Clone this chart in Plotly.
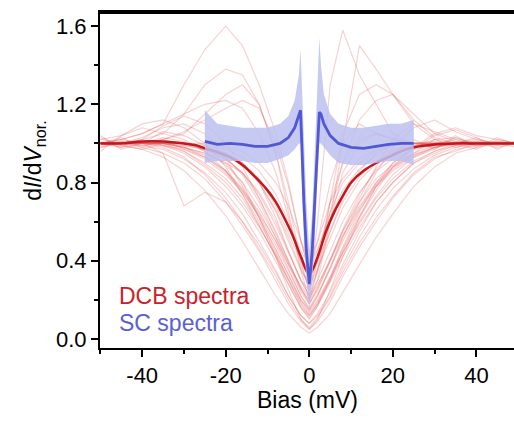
import plotly.graph_objects as go

# bias grid for the individual DCB traces (mV)
bias_dcb = [-50, -45, -40, -35, -30, -25, -20, -16, -12, -8, -5, -2, 0,
            2, 5, 8, 12, 16, 20, 25, 30, 35, 40, 45, 50]

# individual normalised dI/dV DCB spectra
dcb_traces = [
    [1.00, 1.02, 1.05, 1.10, 1.30, 1.48, 1.60, 1.50, 1.30, 1.05, 0.80, 0.50, 0.35, 0.50, 0.80, 1.00, 1.10, 1.05, 1.02, 1.00, 1.01, 0.99, 1.00, 1.00, 1.00],
    [1.00, 0.98, 1.02, 1.05, 1.15, 1.30, 1.38, 1.35, 1.20, 0.95, 0.70, 0.40, 0.25, 0.40, 0.70, 0.90, 1.02, 1.05, 1.03, 1.00, 1.00, 1.02, 0.99, 1.00, 1.00],
    [1.02, 1.00, 1.00, 1.02, 1.05, 1.15, 1.25, 1.30, 1.20, 0.95, 0.65, 0.35, 0.20, 0.35, 0.60, 0.85, 1.00, 1.05, 1.02, 1.00, 0.98, 1.00, 1.01, 1.00, 1.00],
    [1.00, 1.01, 1.00, 1.00, 0.98, 0.95, 0.90, 0.85, 0.75, 0.60, 0.45, 0.30, 0.25, 0.60, 1.30, 1.58, 1.35, 1.20, 1.05, 1.00, 1.00, 1.00, 1.02, 1.00, 1.00],
    [1.00, 1.00, 0.99, 1.00, 1.00, 0.97, 0.92, 0.85, 0.72, 0.55, 0.40, 0.25, 0.20, 0.30, 0.60, 1.00, 1.50, 1.38, 1.25, 1.10, 1.02, 1.00, 1.00, 0.98, 1.00],
    [1.00, 1.00, 1.00, 1.00, 1.00, 0.98, 0.95, 0.90, 0.80, 0.62, 0.45, 0.30, 0.22, 0.35, 0.70, 1.05, 1.25, 1.30, 1.25, 1.12, 1.03, 1.00, 1.00, 1.00, 1.00],
    [1.00, 1.00, 1.00, 1.00, 1.00, 0.98, 0.95, 0.90, 0.80, 0.65, 0.50, 0.35, 0.28, 0.40, 0.65, 0.90, 1.12, 1.22, 1.25, 1.15, 1.05, 1.01, 1.00, 1.00, 1.00],
    [1.00, 1.00, 1.00, 1.02, 1.06, 1.12, 1.18, 1.22, 1.18, 1.00, 0.78, 0.50, 0.35, 0.45, 0.65, 0.80, 0.90, 0.96, 0.99, 1.00, 1.00, 1.00, 1.00, 1.00, 1.00],
    [1.00, 1.02, 1.05, 1.10, 1.15, 1.20, 1.22, 1.18, 1.05, 0.85, 0.62, 0.38, 0.25, 0.35, 0.55, 0.72, 0.86, 0.95, 0.99, 1.00, 1.00, 1.00, 1.00, 1.00, 1.00],
    [1.00, 1.00, 1.00, 1.00, 0.98, 0.95, 0.90, 0.80, 0.62, 0.42, 0.25, 0.10, 0.05, 0.10, 0.25, 0.42, 0.62, 0.78, 0.88, 0.95, 0.99, 1.00, 1.00, 1.00, 1.00],
    [1.00, 0.99, 0.97, 0.93, 0.86, 0.76, 0.63, 0.50, 0.36, 0.22, 0.13, 0.06, 0.03, 0.06, 0.13, 0.24, 0.38, 0.52, 0.64, 0.78, 0.88, 0.95, 0.98, 1.00, 1.00],
    [1.00, 1.00, 0.99, 0.97, 0.92, 0.85, 0.75, 0.64, 0.50, 0.35, 0.22, 0.12, 0.08, 0.12, 0.22, 0.36, 0.52, 0.66, 0.77, 0.87, 0.94, 0.98, 1.00, 1.00, 1.00],
    [1.00, 1.00, 1.00, 0.99, 0.97, 0.93, 0.86, 0.77, 0.65, 0.50, 0.36, 0.22, 0.15, 0.22, 0.37, 0.52, 0.67, 0.79, 0.87, 0.94, 0.98, 1.00, 1.00, 1.00, 1.00],
    [1.00, 1.00, 1.00, 1.00, 0.99, 0.97, 0.92, 0.85, 0.74, 0.58, 0.44, 0.30, 0.22, 0.30, 0.45, 0.60, 0.75, 0.86, 0.92, 0.97, 0.99, 1.00, 1.00, 1.00, 1.00],
    [1.00, 1.00, 1.00, 0.95, 0.68, 0.75, 0.70, 0.60, 0.48, 0.34, 0.22, 0.12, 0.08, 0.13, 0.24, 0.38, 0.55, 0.70, 0.80, 0.90, 0.96, 0.99, 1.00, 1.00, 1.00],
    [1.00, 1.00, 1.00, 1.00, 1.00, 0.98, 0.95, 0.90, 0.82, 0.68, 0.54, 0.40, 0.32, 0.40, 0.55, 0.70, 0.83, 0.91, 0.96, 0.99, 1.00, 1.00, 1.00, 1.00, 1.00],
    [1.00, 1.00, 1.00, 1.00, 1.00, 0.99, 0.97, 0.93, 0.86, 0.74, 0.60, 0.45, 0.38, 0.46, 0.62, 0.76, 0.87, 0.94, 0.97, 0.99, 1.00, 1.00, 1.00, 1.00, 1.00],
    [0.98, 1.00, 1.03, 1.08, 1.10, 1.05, 0.92, 0.78, 0.62, 0.45, 0.32, 0.20, 0.14, 0.20, 0.32, 0.46, 0.63, 0.78, 0.90, 0.98, 1.02, 1.03, 1.00, 1.00, 1.00],
    [1.02, 1.04, 1.10, 1.12, 1.08, 1.00, 0.88, 0.74, 0.58, 0.42, 0.28, 0.16, 0.10, 0.17, 0.30, 0.45, 0.62, 0.76, 0.88, 0.98, 1.05, 1.08, 1.04, 1.02, 1.00],
    [1.00, 1.00, 1.00, 0.99, 0.96, 0.90, 0.82, 0.72, 0.58, 0.42, 0.30, 0.18, 0.12, 0.18, 0.30, 0.44, 0.60, 0.73, 0.84, 0.93, 0.98, 1.00, 1.00, 1.00, 1.00],
    [1.00, 1.00, 0.98, 0.95, 0.90, 0.82, 0.70, 0.58, 0.45, 0.30, 0.18, 0.09, 0.05, 0.09, 0.19, 0.32, 0.47, 0.60, 0.72, 0.84, 0.92, 0.97, 0.99, 1.00, 1.00],
    [1.00, 1.00, 1.00, 1.00, 1.00, 1.00, 0.98, 0.96, 0.90, 0.80, 0.68, 0.50, 0.40, 0.50, 0.70, 0.82, 0.92, 0.97, 0.99, 1.00, 1.00, 1.00, 1.00, 1.00, 1.00],
    [1.00, 1.00, 1.00, 1.00, 0.98, 0.94, 0.86, 0.76, 0.62, 0.46, 0.33, 0.20, 0.15, 0.22, 0.36, 0.52, 0.70, 0.85, 0.98, 1.08, 1.12, 1.06, 1.02, 1.00, 1.00],
    [0.96, 1.04, 1.08, 1.05, 1.02, 0.96, 0.86, 0.74, 0.60, 0.44, 0.30, 0.17, 0.12, 0.18, 0.31, 0.47, 0.65, 0.80, 0.90, 0.97, 1.04, 1.07, 1.03, 0.97, 1.02],
    [1.04, 0.97, 1.00, 1.06, 1.04, 0.99, 0.93, 0.84, 0.70, 0.52, 0.38, 0.24, 0.18, 0.25, 0.40, 0.56, 0.74, 0.87, 0.95, 1.02, 0.97, 1.04, 0.98, 1.03, 0.99],
    [1.00, 1.03, 0.98, 1.02, 0.97, 0.92, 0.84, 0.75, 0.63, 0.48, 0.35, 0.22, 0.16, 0.23, 0.36, 0.50, 0.66, 0.78, 0.86, 0.93, 0.97, 1.03, 0.99, 1.01, 1.00],
    [0.99, 1.00, 1.02, 0.99, 0.95, 0.88, 0.78, 0.68, 0.55, 0.40, 0.28, 0.16, 0.11, 0.17, 0.29, 0.42, 0.57, 0.70, 0.80, 0.90, 0.95, 0.99, 1.01, 1.00, 0.98],
    [1.01, 0.98, 1.00, 1.03, 1.01, 0.96, 0.89, 0.80, 0.67, 0.52, 0.39, 0.26, 0.19, 0.27, 0.41, 0.55, 0.70, 0.82, 0.89, 0.95, 1.02, 0.98, 1.00, 1.01, 1.00],
    [1.00, 1.02, 1.00, 0.98, 0.93, 0.84, 0.72, 0.60, 0.46, 0.32, 0.20, 0.10, 0.06, 0.11, 0.21, 0.34, 0.49, 0.62, 0.73, 0.85, 0.93, 0.96, 1.00, 0.99, 1.01],
    [1.00, 1.00, 1.01, 1.00, 0.99, 0.97, 0.94, 0.89, 0.80, 0.66, 0.52, 0.36, 0.27, 0.36, 0.52, 0.67, 0.81, 0.90, 0.95, 0.98, 1.00, 1.01, 1.00, 1.00, 1.00],
    [1.03, 0.99, 0.97, 1.00, 0.96, 0.89, 0.80, 0.70, 0.57, 0.43, 0.31, 0.19, 0.13, 0.19, 0.31, 0.44, 0.59, 0.72, 0.82, 0.91, 0.96, 1.00, 0.97, 1.02, 1.00],
    [1.00, 1.00, 1.02, 1.09, 1.14, 1.10, 1.00, 0.88, 0.72, 0.54, 0.40, 0.26, 0.18, 0.26, 0.40, 0.55, 0.72, 0.88, 1.02, 1.10, 1.06, 1.02, 1.00, 1.00, 1.00],
    [0.98, 1.01, 1.00, 1.00, 0.98, 0.93, 0.85, 0.76, 0.64, 0.50, 0.38, 0.27, 0.21, 0.28, 0.40, 0.53, 0.68, 0.80, 0.88, 0.94, 0.98, 1.00, 1.03, 0.99, 1.00],
]

# averaged DCB spectrum
bias_dcb_mean = [-50, -45, -40, -35, -30, -27, -25, -22, -19, -16, -13, -10, -8, -6, -4, -2, 0,
                 2, 4, 6, 8, 10, 13, 16, 19, 22, 25, 30, 35, 40, 45, 50]
dcb_mean = [1.00, 1.00, 1.01, 1.01, 1.00, 0.99, 0.975, 0.955, 0.93, 0.89, 0.83, 0.76, 0.70, 0.62, 0.53, 0.42, 0.33,
            0.42, 0.55, 0.65, 0.73, 0.80, 0.86, 0.90, 0.93, 0.96, 0.98, 0.995, 1.00, 1.00, 1.00, 1.00]

# averaged SC spectrum and its spread
bias_sc = [-25, -22, -19, -16, -13, -10, -7, -5, -3.5, -2.5, -2.1, -1.8, -1.3, -0.7, 0,
           0.7, 1.3, 1.9, 2.4, 2.8, 3.5, 5, 7, 10, 13, 16, 19, 22, 25]
sc_mean = [1.01, 0.995, 1.00, 0.995, 0.985, 0.985, 1.00, 1.03, 1.08, 1.15, 1.17, 1.00, 0.70, 0.45, 0.28,
           0.45, 0.70, 1.00, 1.16, 1.15, 1.10, 1.04, 1.00, 0.98, 0.975, 0.985, 0.995, 1.00, 1.00]
sc_upper = [1.17, 1.10, 1.09, 1.08, 1.08, 1.08, 1.10, 1.14, 1.22, 1.35, 1.48, 1.30, 1.00, 0.70, 0.45,
            0.65, 0.95, 1.30, 1.54, 1.40, 1.25, 1.15, 1.10, 1.08, 1.08, 1.09, 1.10, 1.10, 1.12]
sc_lower = [0.90, 0.91, 0.91, 0.91, 0.90, 0.90, 0.92, 0.94, 0.97, 1.00, 1.00, 0.80, 0.50, 0.30, 0.15,
            0.30, 0.50, 0.80, 1.00, 1.00, 0.98, 0.94, 0.90, 0.89, 0.89, 0.90, 0.91, 0.91, 0.89]

x_ticks = [-40, -20, 0, 20, 40]
x_tick_text = ["-40", "-20", "0", "20", "40"]
y_ticks = [0.0, 0.4, 0.8, 1.2, 1.6]
y_tick_text = ["0.0", "0.4", "0.8", "1.2", "1.6"]

fig = go.Figure()

for trace in dcb_traces:
    fig.add_trace(go.Scatter(x=bias_dcb, y=trace, mode="lines",
                             line=dict(color="rgba(225,95,95,0.28)", width=1.2),
                             hoverinfo="skip"))

fig.add_trace(go.Scatter(x=bias_dcb_mean, y=dcb_mean, mode="lines",
                         line=dict(color="#c4161c", width=2.5, shape="spline")))

fig.add_trace(go.Scatter(x=bias_sc, y=sc_upper, mode="lines", line=dict(width=0, color="#c5c7f1")))
fig.add_trace(go.Scatter(x=bias_sc, y=sc_lower, mode="lines", line=dict(width=0, color="#c5c7f1"),
                         fill="tonexty", fillcolor="rgba(188,191,240,0.85)"))
fig.add_trace(go.Scatter(x=bias_sc, y=sc_mean, mode="lines",
                         line=dict(color="#5257d4", width=2.8)))

fig.add_annotation(x=-46, y=0.22, xanchor="left", yanchor="middle", showarrow=False,
                   text="DCB spectra", font=dict(size=23, color="#c8232b"))
fig.add_annotation(x=-46, y=0.08, xanchor="left", yanchor="middle", showarrow=False,
                   text="SC spectra", font=dict(size=23, color="#5b5fd6"))

# axis titles placed as annotations so they sit where the reference has them
fig.add_annotation(xref="paper", yref="paper", x=-0.157, y=0.557, textangle=-90,
                   showarrow=False, xanchor="center", yanchor="middle",
                   text="d<i>I</i>/d<i>V</i><sub>nor.</sub>", font=dict(size=23, color="black"))
fig.add_annotation(xref="paper", yref="paper", x=0.5, y=-0.155, showarrow=False,
                   xanchor="center", yanchor="middle",
                   text="Bias (mV)", font=dict(size=23, color="black"))

# top frame line
fig.add_shape(type="line", xref="paper", yref="paper", x0=0, x1=1, y0=0.997, y1=0.997,
              layer="above", line=dict(color="black", width=2))

axis_style = dict(showline=True, linecolor="black", linewidth=2,
                  ticks="outside", ticklen=7, tickwidth=1.5, tickcolor="black",
                  showgrid=False, zeroline=False, automargin=False,
                  tickfont=dict(size=22, color="black"))

fig.update_xaxes(range=[-50.1, 49], tickvals=x_ticks, ticktext=x_tick_text, mirror=True,
                 minor=dict(ticks="outside", ticklen=4, dtick=10, tick0=0,
                            tickcolor="black", tickwidth=1.5),
                 **axis_style)
fig.update_yaxes(range=[-0.046, 1.672], tickvals=y_ticks, ticktext=y_tick_text, mirror=False,
                 minor=dict(ticks="outside", ticklen=4, dtick=0.2, tick0=0,
                            tickcolor="black", tickwidth=1.5),
                 **axis_style)

fig.update_layout(width=514, height=423, showlegend=False,
                  margin=dict(l=100, r=0, t=12, b=75, autoexpand=False),
                  paper_bgcolor="white", plot_bgcolor="white",
                  font=dict(family="Liberation Sans, Arial, sans-serif"))

fig.write_html("out.html", config={"displayModeBar": False},
               post_script="document.body.style.margin='0';")
